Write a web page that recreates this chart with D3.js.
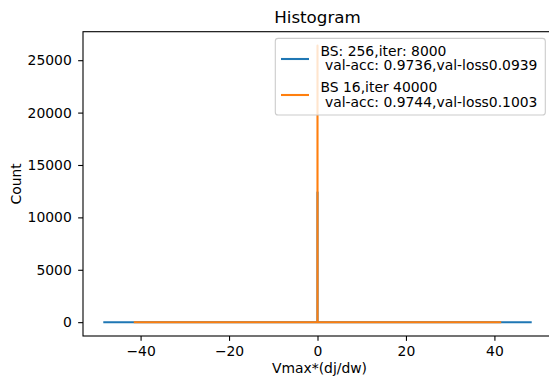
<!DOCTYPE html>
<html>
<head>
<meta charset="utf-8">
<script src="https://cdn.jsdelivr.net/npm/d3@7"></script>
<style>
  html, body { margin: 0; padding: 0; background: #fff; }
  svg { display: block; font-family: "DejaVu Sans", sans-serif; }
</style>
</head>
<body>
<div id="histogram-wrapper"></div>
<script>
// histogram outlines (bin centre -> count)
const blueBins = [-48.2, -0.01, 0, 0.01, 48.2]
const blueCounts = [0, 0, 12400, 0, 0]
const orangeBins = [-41.3, -0.01, 0, 0.01, 41.3]
const orangeCounts = [0, 0, 26400, 0, 0]

const xTicks = [-40, -20, 0, 20, 40]
const yTicks = [0, 5000, 10000, 15000, 20000, 25000]

const seriesNames = ["blue", "orange"]
const seriesColors = ["#1f77b4", "#ff7f0e"]
const legendLabels = [
  ["BS: 256,iter: 8000", " val-acc: 0.9736,val-loss0.0939"],
  ["BS 16,iter 40000", " val-acc: 0.9744,val-loss0.1003"]
]

const fontSize = "13.9px"

const dimensions = {
  width: 549,
  height: 378,
  left: 83,
  right: 552,
  top: 31.7,
  bottom: 336
}

const series = [
  { name: seriesNames[0], color: seriesColors[0], points: blueBins.map((x, i) => ({ x, y: blueCounts[i] })) },
  { name: seriesNames[1], color: seriesColors[1], points: orangeBins.map((x, i) => ({ x, y: orangeCounts[i] })) }
]

// matplotlib-style 5% margins around the data
const xMin = d3.min([...blueBins, ...orangeBins])
const xMax = d3.max([...blueBins, ...orangeBins])
const yMax = d3.max([...blueCounts, ...orangeCounts])
const xPad = (xMax - xMin) * 0.05
const yPad = yMax * 0.05

const xScale = d3.scaleLinear()
  .domain([xMin - xPad, xMax + xPad])
  .range([dimensions.left, dimensions.right])

const yScale = d3.scaleLinear()
  .domain([-yPad, yMax + yPad])
  .range([dimensions.bottom, dimensions.top])

const svg = d3.select("#histogram-wrapper")
  .append("svg")
    .attr("width", dimensions.width)
    .attr("height", dimensions.height)

const line = d3.line()
  .x(d => xScale(d.x))
  .y(d => yScale(d.y))

svg.append("g")
  .selectAll("path")
  .data(series)
  .join("path")
    .attr("d", d => line(d.points))
    .attr("fill", "none")
    .attr("stroke", d => d.color)
    .attr("stroke-width", 2.08)
    .attr("stroke-linejoin", "round")
    .attr("stroke-linecap", "square")

// axes
const xAxis = svg.append("g")
  .attr("transform", `translate(0, ${dimensions.bottom})`)
  .call(d3.axisBottom(xScale).tickValues(xTicks).tickSize(4.86).tickPadding(5.5).tickSizeOuter(0))
const yAxis = svg.append("g")
  .attr("transform", `translate(${dimensions.left}, 0)`)
  .call(d3.axisLeft(yScale).tickValues(yTicks).tickFormat(d3.format("d")).tickSize(4.86).tickPadding(6.4).tickSizeOuter(0))

;[xAxis, yAxis].forEach(axis => {
  axis.select(".domain").remove()
  axis.selectAll(".tick line").attr("stroke", "#000").attr("stroke-width", 1.1)
  axis.selectAll(".tick text")
    .attr("fill", "#000")
    .style("font-family", "DejaVu Sans")
    .style("font-size", fontSize)
})

// spines
svg.append("rect")
  .attr("x", dimensions.left)
  .attr("y", dimensions.top)
  .attr("width", dimensions.right - dimensions.left)
  .attr("height", dimensions.bottom - dimensions.top)
  .attr("fill", "none")
  .attr("stroke", "#000")
  .attr("stroke-width", 1.1)

// title + axis labels
const midX = (dimensions.left + dimensions.right) / 2
svg.append("text")
  .attr("x", midX)
  .attr("y", 23)
  .attr("text-anchor", "middle")
  .style("font-size", "16.7px")
  .text("Histogram")

svg.append("text")
  .attr("x", midX + 2)
  .attr("y", 373.3)
  .attr("text-anchor", "middle")
  .style("font-size", fontSize)
  .text("Vmax*(dj/dw)")

svg.append("text")
  .attr("transform", `translate(20.5, ${(dimensions.top + dimensions.bottom) / 2}) rotate(-90)`)
  .attr("text-anchor", "middle")
  .style("font-size", fontSize)
  .text("Count")

// legend
const legend = svg.append("g")
legend.append("rect")
  .attr("x", 275.3)
  .attr("y", 38.4)
  .attr("width", 270)
  .attr("height", 76.6)
  .attr("rx", 2.8)
  .attr("fill", "#fff")
  .attr("fill-opacity", 0.8)
  .attr("stroke", "#cccccc")
  .attr("stroke-width", 1.1)

const handleY = [59, 95]
const baselines = [[55.5, 70], [92, 106.5]]

const entries = legend.selectAll("g.entry")
  .data(series)
  .join("g")
    .attr("class", "entry")

entries.append("line")
  .attr("x1", 281)
  .attr("x2", 309)
  .attr("y1", (d, i) => handleY[i])
  .attr("y2", (d, i) => handleY[i])
  .attr("stroke", d => d.color)
  .attr("stroke-width", 2.08)

entries.each(function(d, i) {
  d3.select(this).selectAll("text")
    .data(legendLabels[i])
    .join("text")
      .attr("x", 320.5)
      .attr("y", (t, j) => baselines[i][j])
      .attr("xml:space", "preserve")
      .style("white-space", "pre")
      .style("font-size", fontSize)
      .text(t => t)
})
</script>
</body>
</html>
